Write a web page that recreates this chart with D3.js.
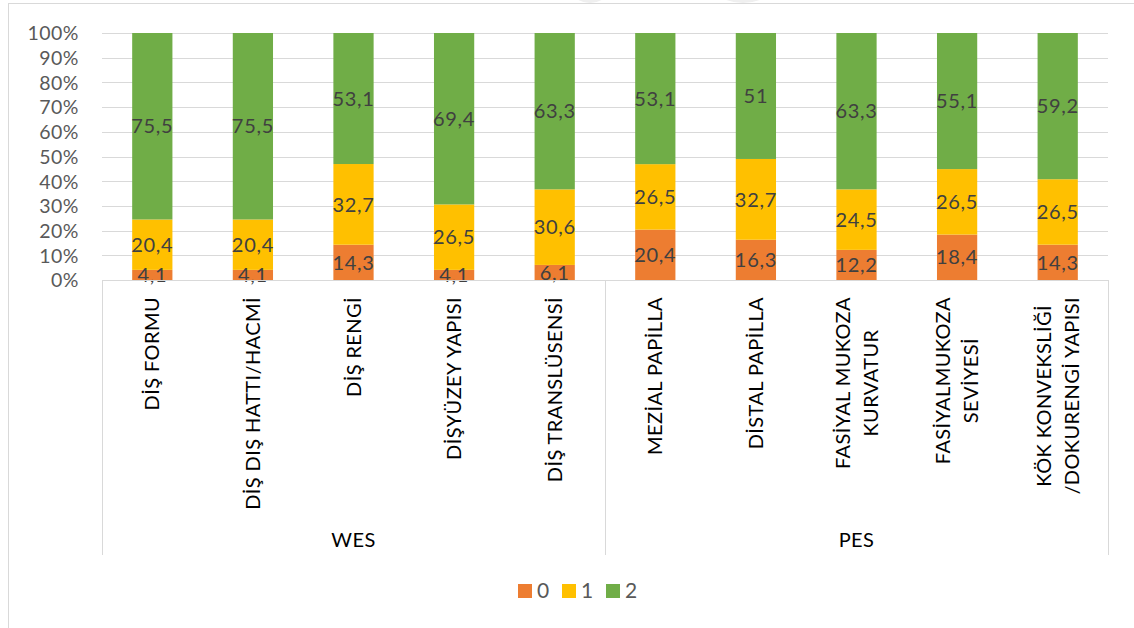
<!DOCTYPE html>
<html><head><meta charset="utf-8">
<script src="https://cdn.jsdelivr.net/npm/d3@7"></script>
<style>
html,body{margin:0;padding:0;background:#fff;}
svg{display:block;}
text{font-family:Lato,"Open Sans",sans-serif;}
</style></head>
<body>
<svg id="c" width="1134" height="628"></svg>
<script>
const categories = ["DİŞ FORMU", "DİŞ DIŞ HATTI/HACMİ", "DİŞ RENGİ", "DİŞYÜZEY YAPISI", "DİŞ TRANSLÜSENSİ",
  "MEZİAL PAPİLLA", "DİSTAL PAPİLLA", "FASİYAL MUKOZA\nKURVATUR", "FASİYALMUKOZA\nSEVİYESİ", "KÖK KONVEKSLİĞİ\n/DOKURENGİ YAPISI"];
const groups = ["WES", "PES"];
const groupSize = [5, 5];
const seriesNames = ["0", "1", "2"];
const s0 = [4.1, 4.1, 14.3, 4.1, 6.1, 20.4, 16.3, 12.2, 18.4, 14.3];
const s1 = [20.4, 20.4, 32.7, 26.5, 30.6, 26.5, 32.7, 24.5, 26.5, 26.5];
const s2 = [75.5, 75.5, 53.1, 69.4, 63.3, 53.1, 51, 63.3, 55.1, 59.2];
const tickValues = [0, 0.1, 0.2, 0.3, 0.4, 0.5, 0.6, 0.7, 0.8, 0.9, 1];
const colors = ["#ED7D31", "#FFC000", "#70AD47"];

const svg = d3.select("#c");
const L = 102, R = 1108, T = 33, B = 280, boxBottom = 555;

// faint watermark at top
svg.append("ellipse").attr("cx", 590).attr("cy", -40).attr("rx", 32).attr("ry", 43).attr("fill", "#efefef");
svg.append("ellipse").attr("cx", 743).attr("cy", -60).attr("rx", 55).attr("ry", 63).attr("fill", "#efefef");
// outer chart border
svg.append("rect").attr("x", 8.5).attr("y", 3.5).attr("width", 1200).attr("height", 700)
  .attr("fill", "none").attr("stroke", "#d9d9d9").attr("stroke-width", 1);

const table = categories.map((c, i) => ({cat: c, "0": s0[i], "1": s1[i], "2": s2[i]}));
const stack = d3.stack().keys(seriesNames).offset(d3.stackOffsetExpand);
const stacked = stack(table);

const x = d3.scaleBand().domain(categories).range([L, R]).paddingInner(0.6).paddingOuter(0.3);
const y = d3.scaleLinear().domain([0, 1]).range([B, T]);

// gridlines
svg.append("g").selectAll("line").data(tickValues.filter(v => v > 0)).join("line")
  .attr("x1", L).attr("x2", R).attr("y1", d => Math.round(y(d)) + 0.5).attr("y2", d => Math.round(y(d)) + 0.5)
  .attr("stroke", "#d9d9d9").attr("stroke-width", 1);

// y axis labels
const yAxis = d3.axisLeft(y).tickValues(tickValues).tickFormat(d3.format(".0%")).tickSize(0).tickPadding(0);
const ya = svg.append("g").attr("transform", "translate(79,0)").call(yAxis);
ya.select(".domain").remove();
ya.selectAll("text").attr("fill", "#595959").attr("font-size", 19.5).attr("font-family", "Lato")
  .attr("letter-spacing", "0.5px").attr("dy", "0.35em");

// bars
const layers = svg.append("g").selectAll("g").data(stacked).join("g").attr("fill", (d, i) => colors[i]);
layers.selectAll("rect").data(d => d).join("rect")
  .attr("x", d => x(d.data.cat)).attr("width", x.bandwidth())
  .attr("y", d => y(d[1])).attr("height", d => y(d[0]) - y(d[1]));

// data labels
const fmt = v => String(v).replace(".", ",");
svg.append("g").selectAll("g").data(stacked).join("g")
  .each(function (layer) {
    d3.select(this).selectAll("text").data(layer).join("text")
      .attr("x", d => x(d.data.cat) + x.bandwidth() / 2)
      .attr("y", d => (y(d[0]) + y(d[1])) / 2)
      .attr("dy", "0.36em")
      .attr("text-anchor", "middle").attr("font-size", 20).attr("letter-spacing", "0.7px").attr("fill", "#404040")
      .text(d => fmt(d.data[layer.key]));
  });

// category axis box
const axisG = svg.append("g").attr("stroke", "#d9d9d9").attr("stroke-width", 1);
axisG.append("line").attr("x1", L).attr("x2", R + 0.5).attr("y1", B + 0.5).attr("y2", B + 0.5);
let idx = 0;
const bounds = [L];
groupSize.forEach(n => { idx += n; bounds.push(idx < categories.length ? (x(categories[idx - 1]) + x.bandwidth() + x(categories[idx])) / 2 : R); });
bounds.forEach(bx => axisG.append("line").attr("x1", Math.round(bx) + 0.5).attr("x2", Math.round(bx) + 0.5).attr("y1", B).attr("y2", boxBottom));

// category labels (rotated, multiline centered)
const lineGap = 28;
categories.forEach(c => {
  const lines = c.split("\n");
  const g = svg.append("g").attr("transform", `translate(${x(c) + x.bandwidth() / 2},297) rotate(-90)`);
  const texts = lines.map((ln, i) => g.append("text")
    .attr("font-size", 20).attr("letter-spacing", "0.4px").attr("fill", "#000").attr("text-anchor", "middle")
    .attr("y", (i - (lines.length - 1) / 2) * lineGap + 7).text(ln));
  const maxLen = d3.max(texts, t => t.node().getComputedTextLength());
  texts.forEach(t => t.attr("x", -maxLen / 2));
});

// group labels
groups.forEach((gname, i) => {
  svg.append("text").attr("x", (bounds[i] + bounds[i + 1]) / 2).attr("y", 547)
    .attr("text-anchor", "middle").attr("font-size", 20).attr("letter-spacing", "0.4px").attr("fill", "#000").text(gname);
});

// legend
const lg = svg.append("g");
const lx = [518, 562, 606];
seriesNames.forEach((s, i) => {
  lg.append("rect").attr("x", lx[i]).attr("y", 584).attr("width", 14).attr("height", 14).attr("fill", colors[i]);
  lg.append("text").attr("x", lx[i] + 19).attr("y", 598).attr("font-size", 21).attr("fill", "#595959").text(s);
});
</script>
</body></html>
